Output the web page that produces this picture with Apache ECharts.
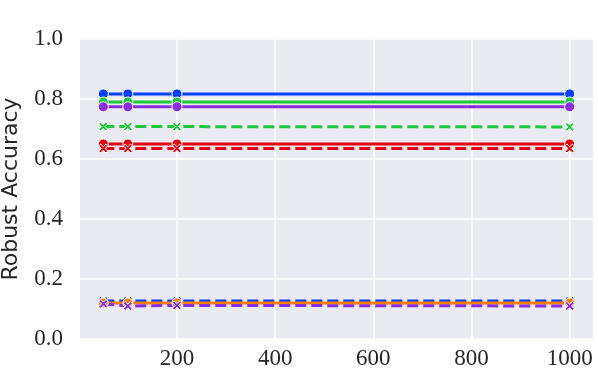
<!DOCTYPE html>
<html>
<head>
<meta charset="utf-8">
<script src="https://cdn.jsdelivr.net/npm/echarts@6/dist/echarts.min.js"></script>
<style>html,body{margin:0;padding:0;background:#fff}#c{width:598px;height:374px}</style>
</head>
<body>
<div id="c"></div>
<script>
const xValues = [50, 100, 200, 1000];
const xTicks = [200, 400, 600, 800, 1000];
const yTicks = [0, 0.2, 0.4, 0.6, 0.8, 1.0];

const blueSolid   = [0.817, 0.817, 0.817, 0.817];
const blueDashed  = [0.127, 0.127, 0.127, 0.127];
const orangeSolid = [0.120, 0.120, 0.120, 0.120];
const greenSolid  = [0.790, 0.790, 0.790, 0.790];
const greenDashed = [0.708, 0.708, 0.708, 0.707];
const redSolid    = [0.650, 0.650, 0.650, 0.650];
const redDashed   = [0.635, 0.635, 0.635, 0.635];
const purpleSolid = [0.774, 0.774, 0.774, 0.774];
const purpleDashed= [0.117, 0.110, 0.112, 0.110];

const colors = {blue:'#023eff', orange:'#ff7c00', green:'#1ac938', red:'#e8000b', purple:'#8b2be2'};
const xPath = 'path://M2,0 L5,3 L8,0 L10,2 L7,5 L10,8 L8,10 L5,7 L2,10 L0,8 L3,5 L0,2 Z';

function mk(name, vals, color, dashed) {
  return {
    name: name,
    type: 'line',
    data: xValues.map((x, i) => [x, vals[i]]),
    showSymbol: true,
    symbol: dashed ? xPath : 'circle',
    symbolSize: dashed ? 9 : 10,
    lineStyle: {color: color, width: 3, type: dashed ? [11, 5] : 'solid'},
    itemStyle: {color: color, borderColor: '#ffffff', borderWidth: 1},
    emphasis: {disabled: true},
    silent: true
  };
}

const series = [
  mk('blueSolid', blueSolid, colors.blue, false),
  mk('blueDashed', blueDashed, colors.blue, true),
  mk('orangeSolid', orangeSolid, colors.orange, false),
  mk('greenSolid', greenSolid, colors.green, false),
  mk('greenDashed', greenDashed, colors.green, true),
  mk('redSolid', redSolid, colors.red, false),
  mk('redDashed', redDashed, colors.red, true),
  mk('purpleSolid', purpleSolid, colors.purple, false),
  mk('purpleDashed', purpleDashed, colors.purple, true)
];

const chart = echarts.init(document.getElementById('c'), null, {renderer: 'canvas'});
chart.setOption({
  animation: false,
  backgroundColor: '#ffffff',
  grid: {left: 80, right: 5, top: 39, bottom: 35, show: true, backgroundColor: '#eaeaf2', borderWidth: 0,
    containLabel: false, outerBoundsMode: 'none'},
  xAxis: {
    type: 'value', min: 2.5, max: 1047.5,
    axisLine: {show: false},
    axisTick: {show: false, customValues: xTicks},
    axisLabel: {customValues: xTicks, color: '#262626', fontFamily: 'Liberation Serif', fontSize: 23, margin: 8,
      formatter: v => String(v)},
    splitLine: {show: true, lineStyle: {color: '#ffffff', width: 1.5}}
  },
  yAxis: {
    type: 'value', min: 0, max: 1, interval: 0.2,
    name: 'Robust Accuracy', nameLocation: 'middle', nameGap: 58,
    nameTextStyle: {color: '#262626', fontFamily: 'DejaVu Sans', fontSize: 22},
    axisLine: {show: false},
    axisTick: {show: false},
    axisLabel: {color: '#262626', fontFamily: 'Liberation Serif', fontSize: 23, margin: 17,
      formatter: v => v.toFixed(1)},
    splitLine: {show: true, lineStyle: {color: '#ffffff', width: 1.5}}
  },
  series: series
});
</script>
</body>
</html>
